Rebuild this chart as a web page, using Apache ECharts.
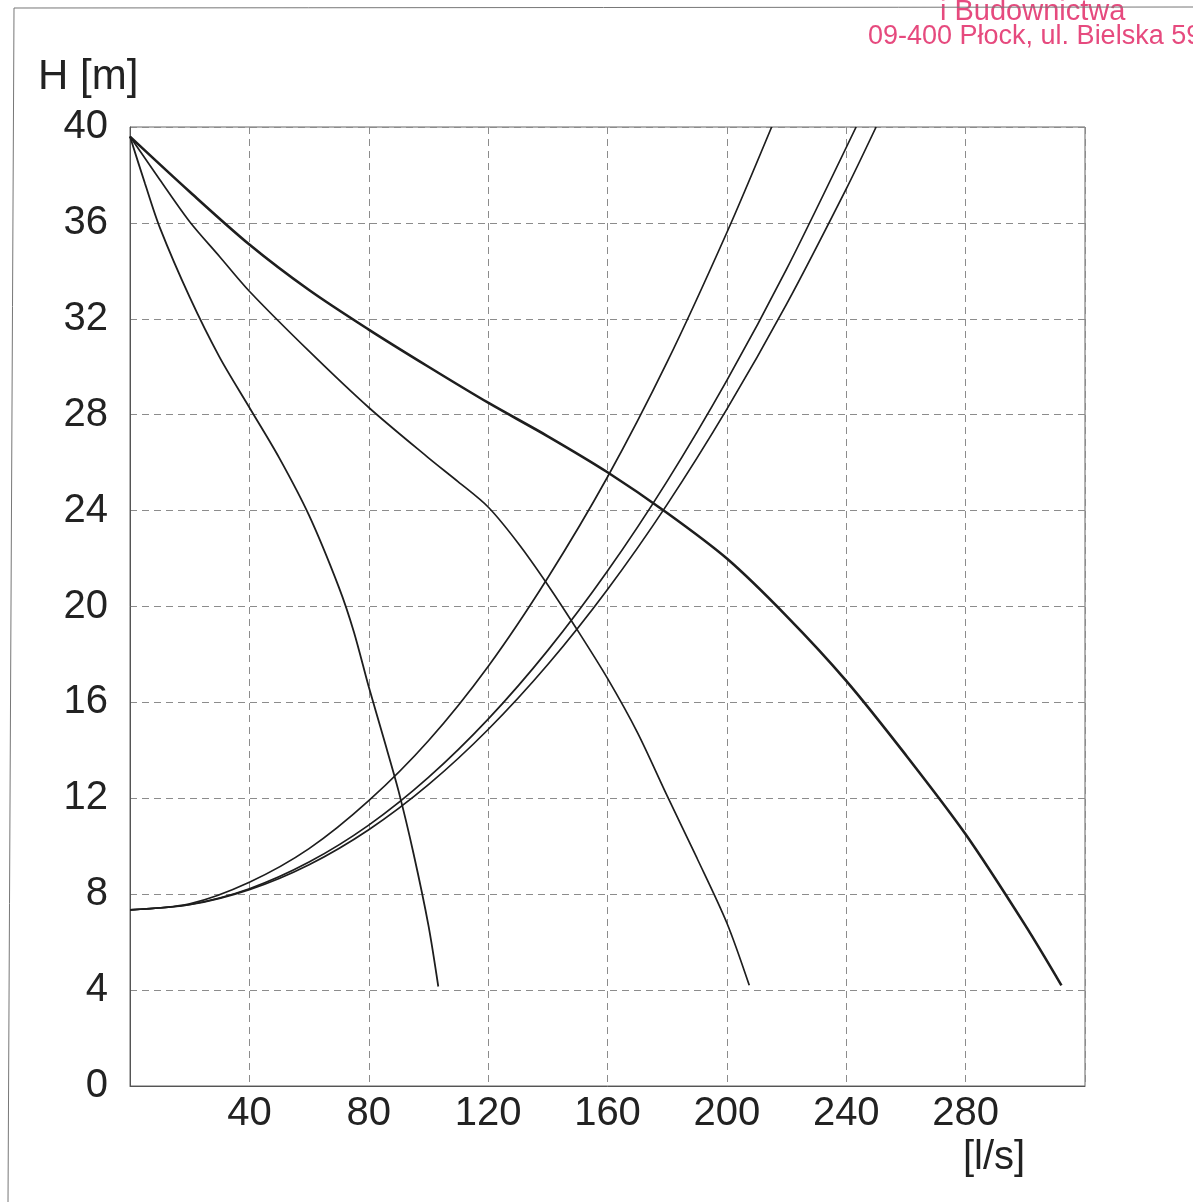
<!DOCTYPE html>
<html>
<head>
<meta charset="utf-8">
<script src="https://cdn.jsdelivr.net/npm/echarts@6/dist/echarts.min.js"></script>
<style>
    body{margin:0;background:#fff;}
    #chart{width:1193px;height:1202px;}
</style>
</head>
<body>
<div id="chart"></div>
<script>
// osie
let xTicks = [40, 80, 120, 160, 200, 240, 280];
let yTicks = [0, 4, 8, 12, 16, 20, 24, 28, 32, 36, 40];

// charakterystyki pomp Q [l/s], H [m]
let pump1Q = [0, 5, 10, 20, 30, 40, 50, 60, 70, 75, 80, 85, 90, 95, 100, 103.3];
let pump1H = [39.6, 37.65, 35.8, 32.9, 30.4, 28.3, 26.2, 23.8, 20.8, 18.95, 16.65, 14.5, 12.3, 9.7, 6.7, 4.15];

let pump2Q = [0, 10, 20, 30, 40, 60, 80, 100, 110, 120, 130, 140, 150, 160, 170, 180, 190, 200, 207.5];
let pump2H = [39.6, 37.8, 36.05, 34.6, 33.15, 30.65, 28.3, 26.2, 25.2, 24.15, 22.65, 20.9, 19.0, 17.0, 14.75, 12.1, 9.5, 6.8, 4.2];

let pump3Q = [0, 20, 40, 60, 80, 100, 120, 140, 160, 180, 200, 220, 240, 260, 280, 300, 312.1];
let pump3H = [39.6, 37.3, 35.1, 33.2, 31.55, 30.0, 28.5, 27.1, 25.6, 23.9, 22.0, 19.6, 16.9, 13.8, 10.5, 6.7, 4.2];

// charakterystyki rurociągu
let pipeAQ = [0, 20, 40, 60, 80, 100, 120, 140, 160, 180, 200, 215];
let pipeAH = [7.35, 7.6, 8.5, 9.9, 11.9, 14.4, 17.5, 21.2, 25.4, 30.2, 35.6, 40];

let pipeBQ = [0, 20, 40, 60, 80, 100, 120, 140, 160, 180, 200, 220, 243.3];
let pipeBH = [7.35, 7.57, 8.23, 9.34, 10.88, 12.87, 15.3, 18.17, 21.48, 25.23, 29.43, 34.07, 40];

let pipeCQ = [0, 20, 40, 60, 80, 100, 120, 140, 160, 180, 200, 220, 240, 250];
let pipeCH = [7.35, 7.56, 8.19, 9.23, 10.69, 12.57, 14.87, 17.58, 20.71, 24.26, 28.23, 32.61, 37.42, 40];

function pairs(q, h){
    return q.map(function(v, i){ return [v, h[i]]; });
}

let font = 'Liberation Sans, Arial, sans-serif';
let ink = '#1e1e1e';

function curve(q, h, w){
    return {
        type: 'line',
        data: pairs(q, h),
        smooth: 0.3,
        showSymbol: false,
        silent: true,
        lineStyle: { color: ink, width: w }
    };
}

let chart = echarts.init(document.getElementById('chart'));
let option = {
    backgroundColor: '#ffffff',
    animation: false,
    grid: {
        left: 130,
        right: 108,
        top: 127,
        bottom: 116,
        show: true,
        borderColor: '#666',
        borderWidth: 1
    },
    xAxis: {
        type: 'value',
        min: 0,
        max: 320,
        interval: 40,
        axisLine: { show: true, lineStyle: { color: '#555', width: 1 } },
        axisTick: { show: false },
        splitLine: { show: true, lineStyle: { color: '#8c8c8c', width: 1, type: [7, 5] } },
        axisLabel: {
            fontSize: 40,
            fontFamily: font,
            color: '#222',
            margin: 8,
            formatter: function(v){ return xTicks.indexOf(v) >= 0 ? String(v) : ''; }
        }
    },
    yAxis: {
        type: 'value',
        min: 0,
        max: 40,
        interval: 4,
        axisLine: { show: true, lineStyle: { color: '#555', width: 1 } },
        axisTick: { show: false },
        splitLine: { show: true, lineStyle: { color: '#8c8c8c', width: 1, type: [7, 5] } },
        axisLabel: {
            fontSize: 40,
            fontFamily: font,
            color: '#222',
            margin: 22,
            formatter: function(v){ return yTicks.indexOf(v) >= 0 ? String(v) : ''; }
        }
    },
    graphic: [
        // ramka skanu
        { type: 'line', shape: { x1: 14, y1: 8, x2: 1193, y2: 7 }, style: { stroke: '#777', lineWidth: 1 }, z: 1 },
        { type: 'line', shape: { x1: 14, y1: 8, x2: 8, y2: 1202 }, style: { stroke: '#777', lineWidth: 1 }, z: 1 },
        // pieczątka
        { type: 'text', left: 940, top: -3, style: { text: 'i Budownictwa', font: '29px ' + font, fill: '#e64a7e' }, z: 0 },
        { type: 'text', left: 868, top: 23, style: { text: '09-400 Płock, ul. Bielska 59', font: '27px ' + font, fill: '#e64a7e' } },
        // opisy osi
        { type: 'text', left: 38, top: 56, style: { text: 'H [m]', font: '42px ' + font, fill: '#222' } },
        { type: 'text', left: 963, top: 1138, style: { text: '[l/s]', font: '40px ' + font, fill: '#222' } }
    ],
    series: [
        curve(pump1Q, pump1H, 1.8),
        curve(pump2Q, pump2H, 1.7),
        curve(pump3Q, pump3H, 2.6),
        curve(pipeAQ, pipeAH, 1.7),
        curve(pipeBQ, pipeBH, 1.7),
        curve(pipeCQ, pipeCH, 1.7)
    ]
};
chart.setOption(option);
</script>
</body>
</html>
